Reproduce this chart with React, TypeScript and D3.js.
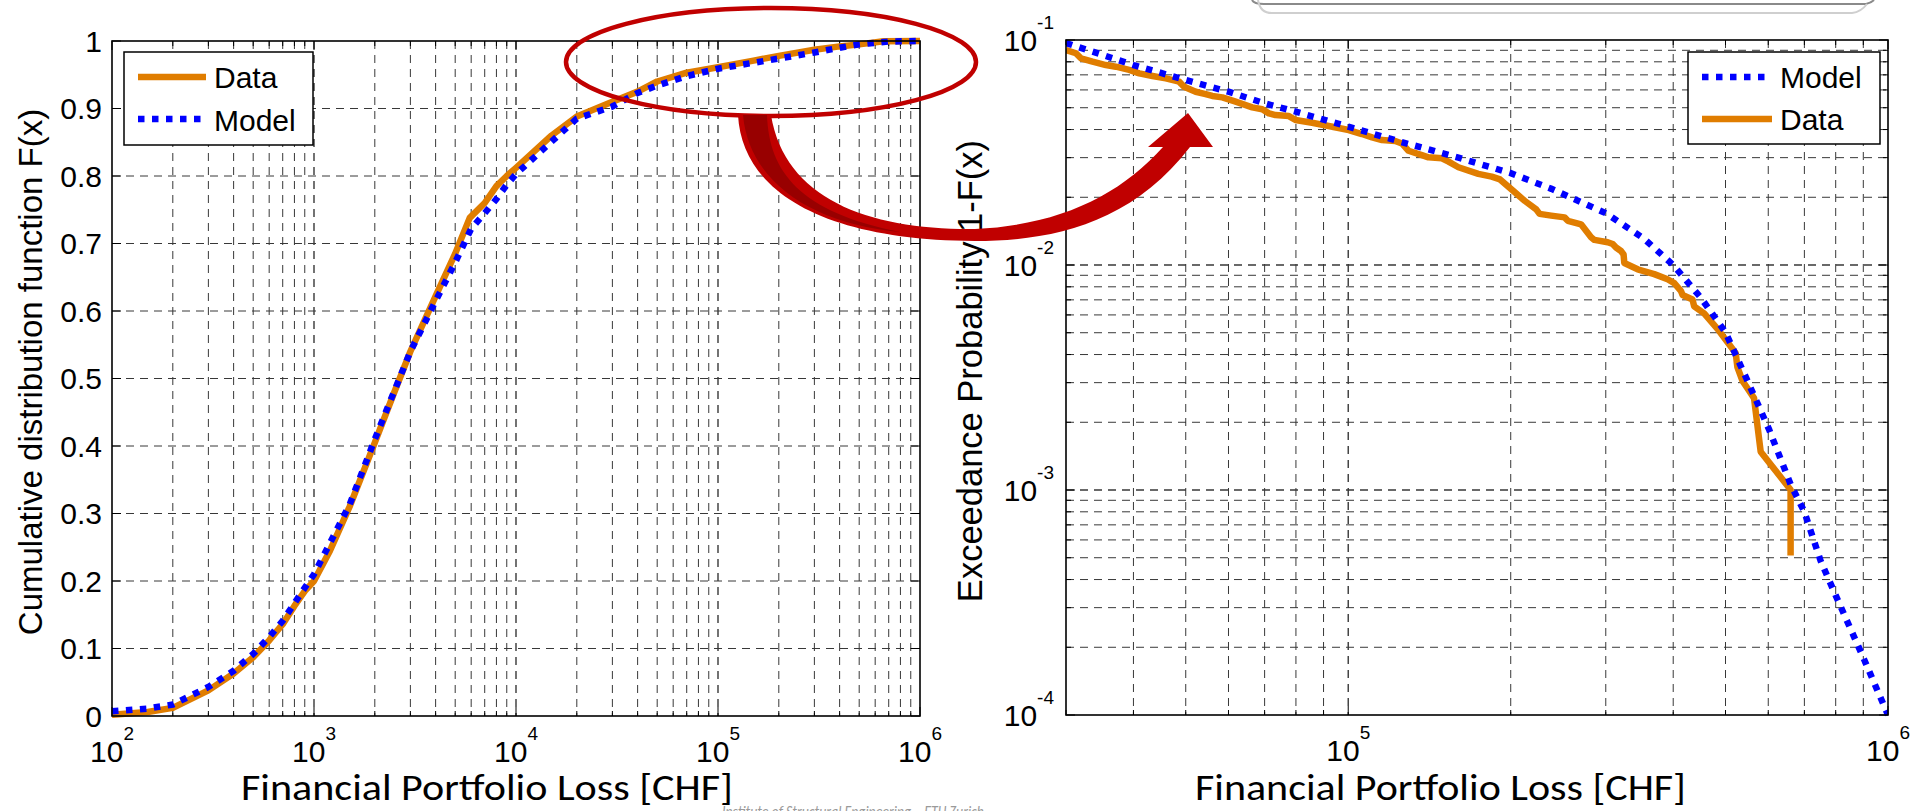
import React from 'react';
import * as d3 from 'd3';

// ---------- data ----------
const cdfDataLoss = [100, 150, 200, 300, 400, 500, 600, 700, 800, 900, 1000, 1200, 1500, 2000, 2500, 3000, 4000, 5000, 5900, 7000, 8000, 9000, 10000, 15000, 20000, 30000, 40000, 50000, 70000, 100000, 150000, 200000, 300000, 400000, 500000, 660000, 1000000];
const cdfDataF = [0.002, 0.006, 0.012, 0.038, 0.063, 0.087, 0.112, 0.136, 0.163, 0.185, 0.2, 0.245, 0.31, 0.405, 0.48, 0.54, 0.622, 0.685, 0.738, 0.76, 0.785, 0.8, 0.812, 0.86, 0.888, 0.91, 0.925, 0.94, 0.953, 0.961, 0.971, 0.978, 0.987, 0.992, 0.995, 0.9995, 1.0];

const cdfModelLoss = [100, 150, 200, 300, 400, 500, 600, 700, 800, 900, 1000, 1500, 2000, 3000, 4000, 5000, 6000, 7000, 8000, 9000, 10000, 20000, 30000, 40000, 50000, 70000, 100000, 200000, 300000, 400000, 500000, 700000, 1000000];
const cdfModelF = [0.007, 0.011, 0.017, 0.043, 0.067, 0.092, 0.117, 0.141, 0.167, 0.19, 0.21, 0.313, 0.41, 0.54, 0.615, 0.672, 0.722, 0.745, 0.766, 0.787, 0.803, 0.885, 0.903, 0.923, 0.934, 0.948, 0.959, 0.974, 0.983, 0.99, 0.995, 0.9992, 1.0];

const tailDataLoss = [30000, 31300, 31970, 33600, 35560, 37110, 39290, 41000, 43390, 45920, 48600, 49640, 52160, 54430, 56000, 58440, 61850, 66400, 69290, 71280, 73340, 77620, 79860, 85700, 91990, 100200, 106000, 110700, 115500, 122200, 125700, 129300, 136900, 140800, 149100, 153400, 160000, 174200, 184400, 191100, 203300, 212200, 222970, 226200, 237700, 251600, 255200, 270000, 281800, 285800, 302500, 309000, 313400, 320100, 323700, 324700, 343700, 368900, 390500, 401800, 413300, 416300, 434300, 437400, 456400, 483100, 504000, 522200, 526000, 537300, 564700, 580900, 660000, 660000];
const tailDataP = [0.0902, 0.0873, 0.0829, 0.0801, 0.0774, 0.0761, 0.0736, 0.0711, 0.0692, 0.0675, 0.0653, 0.0620, 0.0589, 0.0575, 0.0564, 0.0556, 0.0532, 0.0502, 0.0492, 0.0472, 0.0464, 0.0459, 0.0441, 0.0429, 0.0415, 0.0398, 0.0382, 0.0369, 0.0359, 0.0356, 0.0347, 0.0322, 0.0308, 0.0301, 0.0298, 0.0288, 0.0272, 0.0254, 0.0247, 0.0240, 0.0211, 0.0193, 0.01767, 0.01687, 0.01657, 0.01628, 0.01572, 0.01517, 0.01330, 0.01293, 0.01262, 0.01240, 0.01196, 0.01154, 0.01114, 0.01020, 0.00957, 0.00911, 0.00864, 0.00831, 0.00768, 0.00736, 0.00703, 0.00655, 0.00610, 0.00520, 0.00455, 0.00406, 0.00352, 0.00306, 0.00256, 0.00148, 0.001002, 0.000511];

const tailModelLoss = [30000, 40000, 50000, 60000, 70000, 80000, 100000, 125000, 160000, 200000, 238000, 300000, 353000, 400000, 450000, 500000, 549000, 602000, 660000, 700000, 750000, 800000, 900000, 1000000];
const tailModelP = [0.097, 0.0774, 0.0664, 0.0589, 0.0523, 0.048, 0.0412, 0.0353, 0.0300, 0.0256, 0.0218, 0.0170, 0.0131, 0.0100, 0.00716, 0.00502, 0.00306, 0.00186, 0.00106, 0.0008, 0.000485, 0.00034, 0.00018, 0.0001];

const cdfYTicks = [0, 0.1, 0.2, 0.3, 0.4, 0.5, 0.6, 0.7, 0.8, 0.9, 1];
const cdfYTickLabels = ['0', '0.1', '0.2', '0.3', '0.4', '0.5', '0.6', '0.7', '0.8', '0.9', '1'];
const cdfXExponents = [2, 3, 4, 5, 6];
const tailXExponents = [5, 6];
const tailYExponents = [-1, -2, -3, -4];
const leftLegend = ['Data', 'Model'];
const rightLegend = ['Model', 'Data'];
const xLabel = 'Financial Portfolio Loss [CHF]';
const leftYLabel = 'Cumulative distribution function F(x)';
const rightYLabel = 'Exceedance Probability 1-F(x)';
const footer = 'Institute of Structural Engineering \u2013 ETH Zurich';

// ---------- styles ----------
const W = 1926;
const H = 811;
const ORANGE = '#E07D00';
const BLUE = '#0000FF';
const RED = '#C00000';
const DARKRED = '#980000';
const GRID = '#383838';
const FONT = "'Liberation Sans', Arial, sans-serif";
const CAL = "Carlito, Calibri, Lato, sans-serif";

const L = { x0: 112, x1: 920, y0: 41, y1: 716 };
const R = { x0: 1066, x1: 1888, y0: 40, y1: 715 };

function logSteps(lo: number, hi: number) {
  const out: { v: number; major: boolean }[] = [];
  for (let d = Math.floor(Math.log10(lo)); d <= Math.ceil(Math.log10(hi)); d++) {
    for (let k = 1; k <= 9; k++) {
      const v = k * Math.pow(10, d);
      if (v >= lo * 0.999 && v <= hi * 1.001) out.push({ v, major: k === 1 });
    }
  }
  return out;
}

const DATA_W = 6.5;
const MODEL_W = 6.5;
const MODEL_DASH = '6.5,7.5';

export default function App() {
  const lx = d3.scaleLog().domain([1e2, 1e6]).range([L.x0, L.x1]);
  const ly = d3.scaleLinear().domain([0, 1]).range([L.y1, L.y0]);
  const rx = d3.scaleLog().domain([3e4, 1e6]).range([R.x0, R.x1]);
  const ry = d3.scaleLog().domain([1e-4, 1e-1]).range([R.y1, R.y0]);

  const leftLine = d3.line<[number, number]>().x((d) => lx(d[0])).y((d) => ly(d[1]));
  const rightLine = d3.line<[number, number]>().x((d) => rx(d[0])).y((d) => ry(d[1]));

  const cdfData = cdfDataLoss.map((v, i) => [v, cdfDataF[i]] as [number, number]);
  const cdfModel = cdfModelLoss.map((v, i) => [v, cdfModelF[i]] as [number, number]);
  const tailData = tailDataLoss.map((v, i) => [v, tailDataP[i]] as [number, number]);
  const tailModel = tailModelLoss.map((v, i) => [v, tailModelP[i]] as [number, number]);

  const lxSteps = logSteps(1e2, 1e6);
  const rxSteps = logSteps(3e4, 1e6);
  const rySteps = logSteps(1e-4, 1e-1);

  const dash = '8,6';

  const frame = (b: typeof L) => (
    <rect x={b.x0} y={b.y0} width={b.x1 - b.x0} height={b.y1 - b.y0} fill="none" stroke="#000" strokeWidth={1.6} />
  );

  return (
    <svg width={W} height={H} style={{ position: 'absolute', left: 0, top: 0, background: '#fff' }} xmlns="http://www.w3.org/2000/svg">
      <rect x={0} y={0} width={W} height={H} fill="#fff" />
      <defs>
        <clipPath id="clipL"><rect x={L.x0} y={L.y0 - 4} width={L.x1 - L.x0} height={L.y1 - L.y0 + 8} /></clipPath>
        <clipPath id="clipR"><rect x={R.x0} y={R.y0 - 4} width={R.x1 - R.x0} height={R.y1 - R.y0 + 8} /></clipPath>
      </defs>

      {/* top-right decoration */}
      <path d="M1252,0 Q1254,4 1264,4 L1866,4 Q1871,3 1874,0" fill="none" stroke="#8a8a8a" strokeWidth={2} />
      <path d="M1258,0 Q1260,13 1272,13 L1852,13 Q1861,12 1867,4" fill="none" stroke="#cfcfcf" strokeWidth={2} />

      {/* ---------- LEFT PLOT ---------- */}
      <g>
        {lxSteps.filter((s) => s.v > 1e2 && s.v < 1e6).map((s, i) => (
          <line key={'lgx' + i} x1={lx(s.v)} x2={lx(s.v)} y1={L.y0} y2={L.y1} stroke={GRID} strokeWidth={s.major ? 1.4 : 1} strokeDasharray={dash} />
        ))}
        {cdfYTicks.filter((t) => t > 0 && t < 1).map((t, i) => (
          <line key={'lgy' + i} x1={L.x0} x2={L.x1} y1={ly(t)} y2={ly(t)} stroke={GRID} strokeWidth={1} strokeDasharray={dash} />
        ))}
        {lxSteps.map((s, i) => {
          const len = s.major ? 9 : 5;
          const x = lx(s.v);
          return (
            <g key={'ltx' + i}>
              <line x1={x} x2={x} y1={L.y1} y2={L.y1 - len} stroke="#000" strokeWidth={1} />
              <line x1={x} x2={x} y1={L.y0} y2={L.y0 + len} stroke="#000" strokeWidth={1} />
            </g>
          );
        })}
        {cdfYTicks.map((t, i) => (
          <g key={'lty' + i}>
            <line x1={L.x0} x2={L.x0 + 9} y1={ly(t)} y2={ly(t)} stroke="#000" strokeWidth={1} />
            <line x1={L.x1} x2={L.x1 - 9} y1={ly(t)} y2={ly(t)} stroke="#000" strokeWidth={1} />
          </g>
        ))}
        <g clipPath="url(#clipL)">
          <path d={leftLine(cdfData) || ''} fill="none" stroke={ORANGE} strokeWidth={DATA_W} strokeLinejoin="round" />
          <path d={leftLine(cdfModel) || ''} fill="none" stroke={BLUE} strokeWidth={MODEL_W} strokeDasharray={MODEL_DASH} />
        </g>
        {frame(L)}
        {cdfYTicks.map((t, i) => (
          <text key={'lyl' + i} x={102} y={ly(t) + 10.7} textAnchor="end" fontFamily={FONT} fontSize={30} fill="#000">{cdfYTickLabels[i]}</text>
        ))}
        {cdfXExponents.map((e) => (
          <text key={'lxl' + e} x={lx(Math.pow(10, e))} y={762} textAnchor="middle" fontFamily={FONT} fontSize={30} fill="#000">
            <tspan>10</tspan>
            <tspan dy={-22} fontSize={19}>{String(e)}</tspan>
          </text>
        ))}
        {/* legend */}
        <rect x={124} y={52} width={189} height={93} fill="#fff" stroke="#000" strokeWidth={1.5} />
        <line x1={138} x2={206} y1={77} y2={77} stroke={ORANGE} strokeWidth={DATA_W} />
        <line x1={138} x2={202} y1={119} y2={119} stroke={BLUE} strokeWidth={MODEL_W} strokeDasharray={MODEL_DASH} />
        <text x={214} y={88} fontFamily={FONT} fontSize={30} fill="#000">{leftLegend[0]}</text>
        <text x={214} y={131} fontFamily={FONT} fontSize={30} fill="#000">{leftLegend[1]}</text>
        {/* axis labels */}
        <text transform={`translate(42,372) rotate(-90)`} textAnchor="middle" fontFamily={FONT} fontSize={33} fill="#000">{leftYLabel}</text>
        <text x={241} y={800} textLength={492} lengthAdjust="spacingAndGlyphs" fontFamily={CAL} fontSize={37} fill="#000">{xLabel}</text>
      </g>

      {/* ---------- RIGHT PLOT ---------- */}
      <g>
        {rxSteps.filter((s) => s.v > 3e4 * 1.001 && s.v < 1e6).map((s, i) => (
          <line key={'rgx' + i} x1={rx(s.v)} x2={rx(s.v)} y1={R.y0} y2={R.y1} stroke={GRID} strokeWidth={s.major ? 1.4 : 1} strokeDasharray={dash} />
        ))}
        {rySteps.filter((s) => s.v > 1e-4 * 1.001 && s.v < 1e-1 * 0.999).map((s, i) => (
          <line key={'rgy' + i} x1={R.x0} x2={R.x1} y1={ry(s.v)} y2={ry(s.v)} stroke={GRID} strokeWidth={s.major ? 1.4 : 1} strokeDasharray={dash} />
        ))}
        {rxSteps.map((s, i) => {
          const len = s.major ? 9 : 5;
          const x = rx(s.v);
          return (
            <g key={'rtx' + i}>
              <line x1={x} x2={x} y1={R.y1} y2={R.y1 - len} stroke="#000" strokeWidth={1} />
              <line x1={x} x2={x} y1={R.y0} y2={R.y0 + len} stroke="#000" strokeWidth={1} />
            </g>
          );
        })}
        {rySteps.map((s, i) => {
          const len = s.major ? 9 : 5;
          const y = ry(s.v);
          return (
            <g key={'rty' + i}>
              <line x1={R.x0} x2={R.x0 + len} y1={y} y2={y} stroke="#000" strokeWidth={1} />
              <line x1={R.x1} x2={R.x1 - len} y1={y} y2={y} stroke="#000" strokeWidth={1} />
            </g>
          );
        })}
        <g clipPath="url(#clipR)">
          <path d={rightLine(tailData) || ''} fill="none" stroke={ORANGE} strokeWidth={DATA_W} strokeLinejoin="round" />
          <path d={rightLine(tailModel) || ''} fill="none" stroke={BLUE} strokeWidth={MODEL_W} strokeDasharray={MODEL_DASH} />
        </g>
        {frame(R)}
        {tailYExponents.map((e) => (
          <text key={'ryl' + e} x={1054} y={ry(Math.pow(10, e)) + 10.7} textAnchor="end" fontFamily={FONT} fontSize={30} fill="#000">
            <tspan>10</tspan>
            <tspan dy={-22} fontSize={19}>{String(e)}</tspan>
          </text>
        ))}
        {tailXExponents.map((e) => (
          <text key={'rxl' + e} x={rx(Math.pow(10, e))} y={761} textAnchor="middle" fontFamily={FONT} fontSize={30} fill="#000">
            <tspan>10</tspan>
            <tspan dy={-22} fontSize={19}>{String(e)}</tspan>
          </text>
        ))}
        {/* legend */}
        <rect x={1688} y={52} width={192} height={92} fill="#fff" stroke="#000" strokeWidth={1.5} />
        <line x1={1702} x2={1766} y1={77} y2={77} stroke={BLUE} strokeWidth={MODEL_W} strokeDasharray={MODEL_DASH} />
        <line x1={1702} x2={1772} y1={119} y2={119} stroke={ORANGE} strokeWidth={DATA_W} />
        <text x={1780} y={88} fontFamily={FONT} fontSize={30} fill="#000">{rightLegend[0]}</text>
        <text x={1780} y={130} fontFamily={FONT} fontSize={30} fill="#000">{rightLegend[1]}</text>
        <text transform={`translate(982,140) rotate(-90)`} textAnchor="end" fontFamily={FONT} fontSize={34.5} fill="#000">{rightYLabel}</text>
        <text x={1195} y={800} textLength={491} lengthAdjust="spacingAndGlyphs" fontFamily={CAL} fontSize={37} fill="#000">{xLabel}</text>
      </g>

      {/* footer */}
      <text x={722} y={817} textLength={262} lengthAdjust="spacingAndGlyphs" fontFamily={CAL} fontStyle="italic" fontSize={16} fill="#9a9a9a">{footer}</text>

      {/* ---------- annotations: ellipse and arrow ---------- */}
      <ellipse cx={771} cy={62} rx={205} ry={54} fill="none" stroke={RED} strokeWidth={4.5} />
      <path
        d="M738,115 C742,190 820,240 975,241 C1050,241 1130,225 1190,147 L1213,147 L1188,113 L1148,147 L1163,147 C1120,195 1060,225 975,229 C870,230 785,200 771,115 Z"
        fill={RED}
      />
      <path d="M743,115 L767,115 C769,172 800,212 900,232 C812,224 749,182 743,115 Z" fill={DARKRED} />
    </svg>
  );
}
